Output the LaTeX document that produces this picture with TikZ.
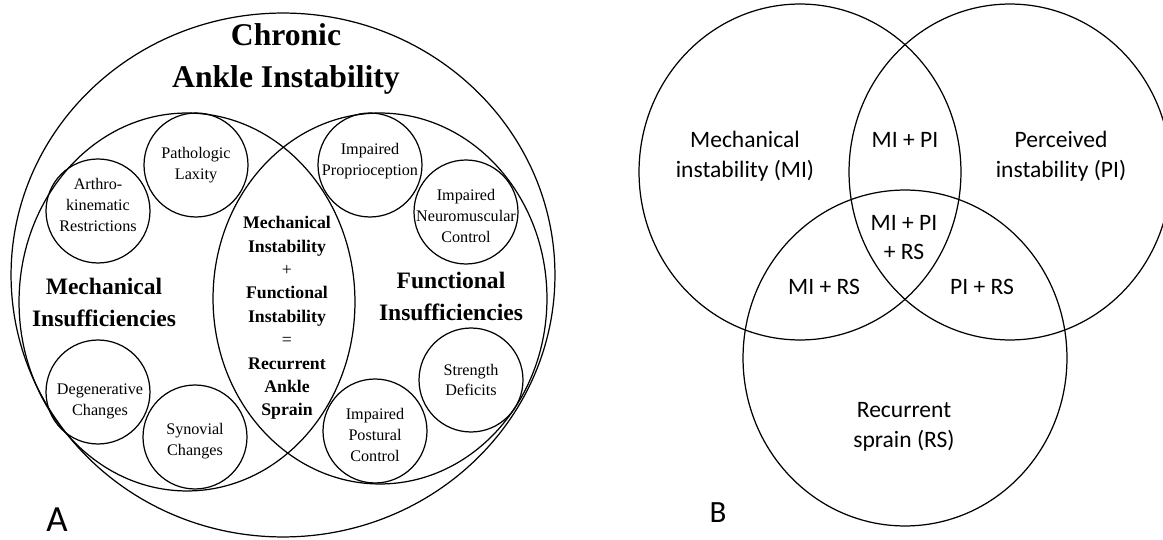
\documentclass[tikz,border=0pt]{standalone}
\usepackage{fontspec}
\newfontfamily\timesfont{Liberation Serif}
\newfontfamily\calibrifont{Carlito}
\usetikzlibrary{shapes.geometric}

\begin{document}
\begin{tikzpicture}[
    x=0.02cm, y=-0.02cm,
    ring/.style={draw, line width=0.7pt, ellipse, inner sep=0pt},
    bubble/.style={draw, line width=0.7pt, circle, minimum size=2.08cm, inner sep=0pt},
    bubbletext/.style={align=center, font=\timesfont\fontsize{9.2}{11.9}\selectfont},
    heading/.style={align=center, font=\timesfont\bfseries\fontsize{13.4}{18.1}\selectfont},
    lenstext/.style={align=center, font=\timesfont\bfseries\fontsize{10.1}{13.3}\selectfont},
    venn/.style={draw, line width=0.7pt, ellipse, inner sep=0pt,
        minimum width=6.44cm, minimum height=6.72cm},
    vennlabel/.style={align=center, font=\calibrifont\fontsize{13.4}{17}\selectfont},
    panel/.style={font=\calibrifont\fontsize{17.6}{20}\selectfont}
]
\useasboundingbox (0,0) rectangle (1163,540);

% Panel A: outer circle and the two overlapping groups
\node[ring, minimum width=10.88cm, minimum height=10.48cm] (cai)  at (283,275) {};
\node[ring, minimum width=6.72cm,  minimum height=7.56cm]  (mech) at (187,302) {};
\node[ring, minimum width=6.68cm,  minimum height=7.42cm]  (func) at (380,298.5) {};

\node[align=center, font=\timesfont\bfseries\fontsize{18}{23.8}\selectfont] (caititle) at (286,59) {Chronic\\Ankle Instability};

% Mechanical side
\node[bubble] (laxity) at (196,165) {};
\node[bubble] (arthro) at (98,211)  {};
\node[bubble] (degen)  at (98,392)  {};
\node[bubble] (synov)  at (195,437) {};
\node[bubbletext] at (laxity) {Pathologic\\Laxity};
\node[bubbletext] at ([shift={(0,-6)}]arthro) {Arthro-\\kinematic\\Restrictions};
\node[bubbletext] at ([shift={(2,9)}]degen) {Degenerative\\Changes};
\node[bubbletext] at ([shift={(0,4)}]synov) {Synovial\\Changes};
\node[heading] (mechtitle) at (104,302.5) {Mechanical\\Insufficiencies};

% Functional side
\node[bubble] (propr)    at (370,165) {};
\node[bubble] (neuro)    at (466,212) {};
\node[bubble] (strength) at (471,380) {};
\node[bubble] (postural) at (375,431) {};
\node[bubbletext] at ([shift={(0,-4)}]propr) {Impaired\\Proprioception};
\node[bubbletext] at ([shift={(0,4)}]neuro) {Impaired\\Neuromuscular\\Control};
\node[bubbletext] at (strength) {Strength\\Deficits};
\node[bubbletext] at ([shift={(0,4)}]postural) {Impaired\\Postural\\Control};
\node[heading] (functitle) at (451,296.5) {Functional\\Insufficiencies};

% overlap
\node[lenstext] (lens) at (287,318) {Mechanical\\Instability\\{\mdseries +}\\Functional\\Instability\\{\mdseries =}\\Recurrent\\Ankle\\Sprain};

\node[panel, font=\calibrifont\fontsize{21}{22}\selectfont] (panela) at (57,520) {A};

% Panel B: three-way Venn
\node[venn] (mi) at (800,172) {};
\node[venn] (pi) at (1010,172) {};
\node[venn, minimum width=6.48cm] (rs) at (905,358) {};

\node[vennlabel] (milabel) at (745,156)   {Mechanical\\instability (MI)};
\node[vennlabel] (pilabel) at (1061,156)  {Perceived\\instability (PI)};
\node[vennlabel] (mipi)    at (905,139.5) {MI + PI};
\node[vennlabel] (mipirs)  at (904,237.5) {MI + PI\\+ RS};
\node[vennlabel] (mirs)    at (824,286.5) {MI + RS};
\node[vennlabel] (pirs)    at (982,286.5) {PI + RS};
\node[vennlabel] (rslabel) at (904,427)   {Recurrent\\sprain (RS)};

\node[panel] (panelb) at (718,513) {B};

\end{tikzpicture}
\end{document}
